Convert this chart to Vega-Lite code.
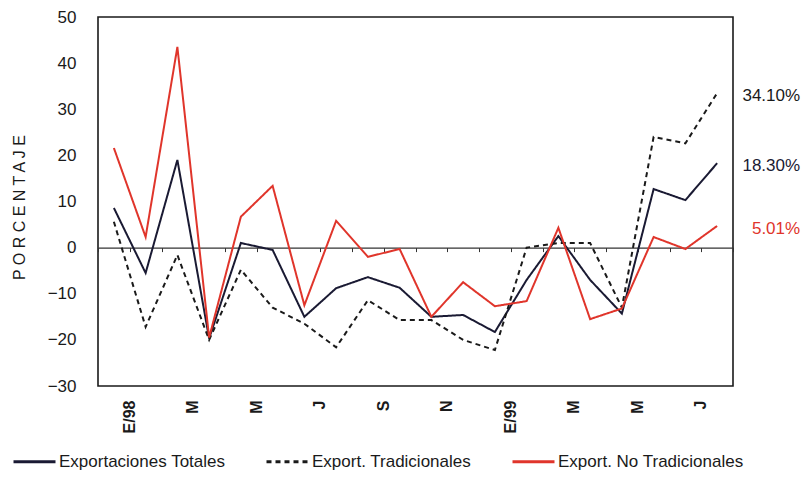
{
  "$schema": "https://vega.github.io/schema/vega-lite/v6.json",
  "width": 635,
  "height": 369,
  "autosize": {"type": "none"},
  "padding": {"left": 98, "top": 17, "right": 69, "bottom": 93},
  "background": "white",
  "config": {
    "view": {"stroke": "#1a1a1a", "strokeWidth": 1.6},
    "font": "Liberation Sans"
  },
  "datasets": {
    "series": [
      {"mes": "E/98", "serie": "Exportaciones Totales", "valor": 8.6},
      {"mes": "F/98", "serie": "Exportaciones Totales", "valor": -5.5},
      {"mes": "M/98", "serie": "Exportaciones Totales", "valor": 19},
      {"mes": "A/98", "serie": "Exportaciones Totales", "valor": -19.7},
      {"mes": "My/98", "serie": "Exportaciones Totales", "valor": 1},
      {"mes": "Jn/98", "serie": "Exportaciones Totales", "valor": -0.5},
      {"mes": "Jl/98", "serie": "Exportaciones Totales", "valor": -15},
      {"mes": "Ag/98", "serie": "Exportaciones Totales", "valor": -8.8},
      {"mes": "S/98", "serie": "Exportaciones Totales", "valor": -6.4},
      {"mes": "O/98", "serie": "Exportaciones Totales", "valor": -8.7},
      {"mes": "N/98", "serie": "Exportaciones Totales", "valor": -15},
      {"mes": "D/98", "serie": "Exportaciones Totales", "valor": -14.6},
      {"mes": "E/99", "serie": "Exportaciones Totales", "valor": -18.3},
      {"mes": "F/99", "serie": "Exportaciones Totales", "valor": -7},
      {"mes": "M/99", "serie": "Exportaciones Totales", "valor": 2.5},
      {"mes": "A/99", "serie": "Exportaciones Totales", "valor": -7},
      {"mes": "My/99", "serie": "Exportaciones Totales", "valor": -14.3},
      {"mes": "Jn/99", "serie": "Exportaciones Totales", "valor": 12.7},
      {"mes": "Jl/99", "serie": "Exportaciones Totales", "valor": 10.3},
      {"mes": "Ag/99", "serie": "Exportaciones Totales", "valor": 18.3},
      {"mes": "E/98", "serie": "Export. Tradicionales", "valor": 5.6},
      {"mes": "F/98", "serie": "Export. Tradicionales", "valor": -17.2},
      {"mes": "M/98", "serie": "Export. Tradicionales", "valor": -1.6},
      {"mes": "A/98", "serie": "Export. Tradicionales", "valor": -20},
      {"mes": "My/98", "serie": "Export. Tradicionales", "valor": -4.8},
      {"mes": "Jn/98", "serie": "Export. Tradicionales", "valor": -13},
      {"mes": "Jl/98", "serie": "Export. Tradicionales", "valor": -16.5},
      {"mes": "Ag/98", "serie": "Export. Tradicionales", "valor": -21.6},
      {"mes": "S/98", "serie": "Export. Tradicionales", "valor": -11.4},
      {"mes": "O/98", "serie": "Export. Tradicionales", "valor": -15.7},
      {"mes": "N/98", "serie": "Export. Tradicionales", "valor": -15.7},
      {"mes": "D/98", "serie": "Export. Tradicionales", "valor": -20},
      {"mes": "E/99", "serie": "Export. Tradicionales", "valor": -22.2},
      {"mes": "F/99", "serie": "Export. Tradicionales", "valor": 0},
      {"mes": "M/99", "serie": "Export. Tradicionales", "valor": 1},
      {"mes": "A/99", "serie": "Export. Tradicionales", "valor": 1},
      {"mes": "My/99", "serie": "Export. Tradicionales", "valor": -13},
      {"mes": "Jn/99", "serie": "Export. Tradicionales", "valor": 24},
      {"mes": "Jl/99", "serie": "Export. Tradicionales", "valor": 22.6},
      {"mes": "Ag/99", "serie": "Export. Tradicionales", "valor": 33.5},
      {"mes": "E/98", "serie": "Export. No Tradicionales", "valor": 21.6},
      {"mes": "F/98", "serie": "Export. No Tradicionales", "valor": 2.3},
      {"mes": "M/98", "serie": "Export. No Tradicionales", "valor": 43.5},
      {"mes": "A/98", "serie": "Export. No Tradicionales", "valor": -19.5},
      {"mes": "My/98", "serie": "Export. No Tradicionales", "valor": 6.7},
      {"mes": "Jn/98", "serie": "Export. No Tradicionales", "valor": 13.4},
      {"mes": "Jl/98", "serie": "Export. No Tradicionales", "valor": -12.5},
      {"mes": "Ag/98", "serie": "Export. No Tradicionales", "valor": 5.8},
      {"mes": "S/98", "serie": "Export. No Tradicionales", "valor": -2},
      {"mes": "O/98", "serie": "Export. No Tradicionales", "valor": -0.3},
      {"mes": "N/98", "serie": "Export. No Tradicionales", "valor": -15},
      {"mes": "D/98", "serie": "Export. No Tradicionales", "valor": -7.5},
      {"mes": "E/99", "serie": "Export. No Tradicionales", "valor": -12.7},
      {"mes": "F/99", "serie": "Export. No Tradicionales", "valor": -11.6},
      {"mes": "M/99", "serie": "Export. No Tradicionales", "valor": 4.3},
      {"mes": "A/99", "serie": "Export. No Tradicionales", "valor": -15.5},
      {"mes": "My/99", "serie": "Export. No Tradicionales", "valor": -13.2},
      {"mes": "Jn/99", "serie": "Export. No Tradicionales", "valor": 2.3},
      {"mes": "Jl/99", "serie": "Export. No Tradicionales", "valor": -0.3},
      {"mes": "Ag/99", "serie": "Export. No Tradicionales", "valor": 4.7}
    ],
    "etiquetas": [
      {"mes": "Ag/99", "serie": "Export. Tradicionales", "valor": 33.5, "etiqueta": "34.10%"},
      {"mes": "Ag/99", "serie": "Exportaciones Totales", "valor": 18.3, "etiqueta": "18.30%"},
      {"mes": "Ag/99", "serie": "Export. No Tradicionales", "valor": 4.7, "etiqueta": "5.01%"}
    ]
  },
  "encoding": {
    "y": {
      "field": "valor",
      "type": "quantitative",
      "scale": {"domain": [-30, 50], "nice": false, "zero": false},
      "axis": {
        "title": "P O R C E N T A J E",
        "titleFont": "Liberation Sans",
        "titleFontSize": 16,
        "titleFontWeight": "normal",
        "titleColor": "#1a1a1a",
        "titleAngle": 270,
        "titleBaseline": "middle",
        "titleAlign": "center",
        "titleX": -79,
        "titleY": 190,
        "values": [-30, -20, -10, 0, 10, 20, 30, 40, 50],
        "ticks": false,
        "tickSize": 0,
        "domain": false,
        "grid": false,
        "labelPadding": 22,
        "labelFontSize": 17,
        "labelColor": "#1a1a1a",
        "labelOverlap": false
      }
    }
  },
  "layer": [
    {
      "data": {"name": "series"},
      "mark": {"type": "line", "strokeWidth": 2},
      "encoding": {
        "x": {
          "field": "mes",
          "type": "ordinal",
          "scale": {
            "type": "band",
            "paddingInner": 0,
            "paddingOuter": 0,
            "domain": ["E/98", "F/98", "M/98", "A/98", "My/98", "Jn/98", "Jl/98", "Ag/98", "S/98", "O/98", "N/98", "D/98", "E/99", "F/99", "M/99", "A/99", "My/99", "Jn/99", "Jl/99", "Ag/99"]
          },
          "axis": {
            "orient": "bottom",
            "title": null,
            "domain": false,
            "ticks": false,
            "tickSize": 0,
            "labelAngle": 270,
            "labelPadding": 14,
            "labelOffset": 16,
            "labelFontSize": 16,
            "labelFontWeight": "bold",
            "labelColor": "#1a1a1a",
            "labelOverlap": false,
            "labelExpr": "indexof(['E/98','E/99'], datum.value) >= 0 ? datum.value : (indexof(['M/98','My/98','Jl/98','S/98','N/98','M/99','My/99','Jl/99'], datum.value) >= 0 ? substring(datum.value, 0, 1) : '')"
          }
        },
        "color": {
          "field": "serie",
          "type": "nominal",
          "scale": {
            "domain": ["Exportaciones Totales", "Export. Tradicionales", "Export. No Tradicionales"],
            "range": ["#1a1a33", "#1a1a1a", "#e0352b"]
          },
          "legend": {
            "title": null,
            "orient": "none",
            "direction": "horizontal",
            "legendX": -86,
            "legendY": 422,
            "symbolType": "stroke",
            "symbolSize": 1764,
            "symbolStrokeWidth": 3,
            "labelFont": "Liberation Sans",
            "labelFontSize": 17,
            "labelColor": "#1a1a1a",
            "labelOffset": 2,
            "columnPadding": 34,
            "labelLimit": 400
          }
        },
        "strokeDash": {
          "field": "serie",
          "type": "nominal",
          "scale": {
            "domain": ["Exportaciones Totales", "Export. Tradicionales", "Export. No Tradicionales"],
            "range": [[1, 0], [5, 4], [1, 0]]
          },
          "legend": {
            "title": null,
            "orient": "none",
            "direction": "horizontal",
            "legendX": -86,
            "legendY": 422,
            "symbolType": "stroke",
            "symbolSize": 1764,
            "symbolStrokeWidth": 3,
            "labelFont": "Liberation Sans",
            "labelFontSize": 17,
            "labelColor": "#1a1a1a",
            "labelOffset": 2,
            "columnPadding": 34,
            "labelLimit": 400
          }
        }
      }
    },
    {
      "data": {"name": "etiquetas"},
      "mark": {"type": "text", "align": "right", "baseline": "middle", "dx": 83, "dy": 3, "fontSize": 17, "font": "Liberation Sans"},
      "encoding": {
        "x": {
          "field": "mes",
          "type": "ordinal",
          "scale": {
            "type": "band",
            "paddingInner": 0,
            "paddingOuter": 0,
            "domain": ["E/98", "F/98", "M/98", "A/98", "My/98", "Jn/98", "Jl/98", "Ag/98", "S/98", "O/98", "N/98", "D/98", "E/99", "F/99", "M/99", "A/99", "My/99", "Jn/99", "Jl/99", "Ag/99"]
          },
          "axis": {
            "orient": "bottom",
            "offset": -138.4,
            "title": null,
            "labels": false,
            "domain": true,
            "domainColor": "#333333",
            "domainWidth": 1.3,
            "ticks": true,
            "tickBand": "extent",
            "tickSize": 4,
            "tickColor": "#333333",
            "tickWidth": 1
          }
        },
        "text": {"field": "etiqueta", "type": "nominal"},
        "color": {"field": "serie", "type": "nominal", "legend": null}
      }
    }
  ],
  "resolve": {"axis": {"x": "independent"}}
}
